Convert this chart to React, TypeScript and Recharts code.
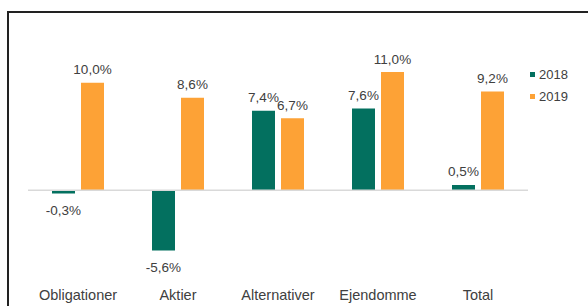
import React from "react";
import {
  BarChart,
  Bar,
  XAxis,
  YAxis,
  ReferenceLine,
  Legend,
  LabelList,
} from "recharts";

// Kategorier og afkast (procent)
const categories = ["Obligationer", "Aktier", "Alternativer", "Ejendomme", "Total"];
const values2018 = [-0.3, -5.6, 7.4, 7.6, 0.5];
const values2019 = [10.0, 8.6, 6.7, 11.0, 9.2];
const yDomain = [-8, 12];

const data = categories.map((name, i) => ({
  name,
  y2018: values2018[i],
  y2019: values2019[i],
}));

const TEAL = "#03705f";
const ORANGE = "#fda236";
const TEXT = "#404040";
const FONT = "Liberation Sans, Arial, sans-serif";

const fmt = (v: number) => v.toFixed(1).replace(".", ",") + "%";

// Label over positive bars, under negative bars
const ValueLabel: React.FC<any> = ({ x, y, width, height, value }) => {
  const top = Math.min(y, y + height);
  const bottom = Math.max(y, y + height);
  const ty = value >= 0 ? top - 8.5 : bottom + 21;
  return (
    <text x={x + width / 2} y={ty} textAnchor="middle" fontSize={13.5} fill={TEXT} fontFamily={FONT}>
      {fmt(value)}
    </text>
  );
};

// Kategori-tekst under aksen
const CategoryTick: React.FC<any> = ({ x, y, payload }) => (
  <text x={x} y={y + 23.5} textAnchor="middle" fontSize={14.5} fill={TEXT} fontFamily={FONT}>
    {payload.value}
  </text>
);

const LegendContent: React.FC<any> = ({ payload }) => (
  <div style={{ fontFamily: FONT, fontSize: 13, color: TEXT }}>
    {(payload || []).map((p: any) => (
      <div key={p.value} style={{ display: "flex", alignItems: "center", height: 22 }}>
        <span style={{ width: 5, height: 5, background: p.color, marginRight: 4 }} />
        {p.value}
      </div>
    ))}
  </div>
);

const App: React.FC = () => {
  return (
    <div
      style={{
        position: "fixed",
        left: 0,
        top: 0,
        width: 588,
        height: 306,
        overflow: "hidden",
        background: "#fff",
      }}
    >
      {/* ramme */}
      <div
        style={{
          position: "absolute",
          left: 7,
          top: 11,
          width: 620,
          height: 340,
          border: "2px solid #222",
          boxSizing: "border-box",
        }}
      />
      <div style={{ position: "absolute", left: 0, top: 0 }}>
        <BarChart
          width={588}
          height={306}
          data={data}
          margin={{ top: 61.3, right: 0, left: 28, bottom: 0 }}
          barCategoryGap={24}
          barGap={6}
        >
          <XAxis
            dataKey="name"
            axisLine={false}
            tickLine={false}
            tickSize={0}
            tickMargin={0}
            height={29.7}
            interval={0}
            tick={<CategoryTick />}
          />
          <YAxis hide domain={yDomain} type="number" allowDataOverflow />
          <ReferenceLine y={0} stroke="#d9d9d9" strokeWidth={1.5} />
          <Legend
            layout="vertical"
            verticalAlign="top"
            align="right"
            content={<LegendContent />}
            wrapperStyle={{ left: 530, top: 63, width: 60 }}
          />
          <Bar dataKey="y2018" name="2018" fill={TEAL} isAnimationActive={false}>
            <LabelList dataKey="y2018" content={<ValueLabel />} />
          </Bar>
          <Bar dataKey="y2019" name="2019" fill={ORANGE} isAnimationActive={false}>
            <LabelList dataKey="y2019" content={<ValueLabel />} />
          </Bar>
        </BarChart>
      </div>
    </div>
  );
};

export default App;
